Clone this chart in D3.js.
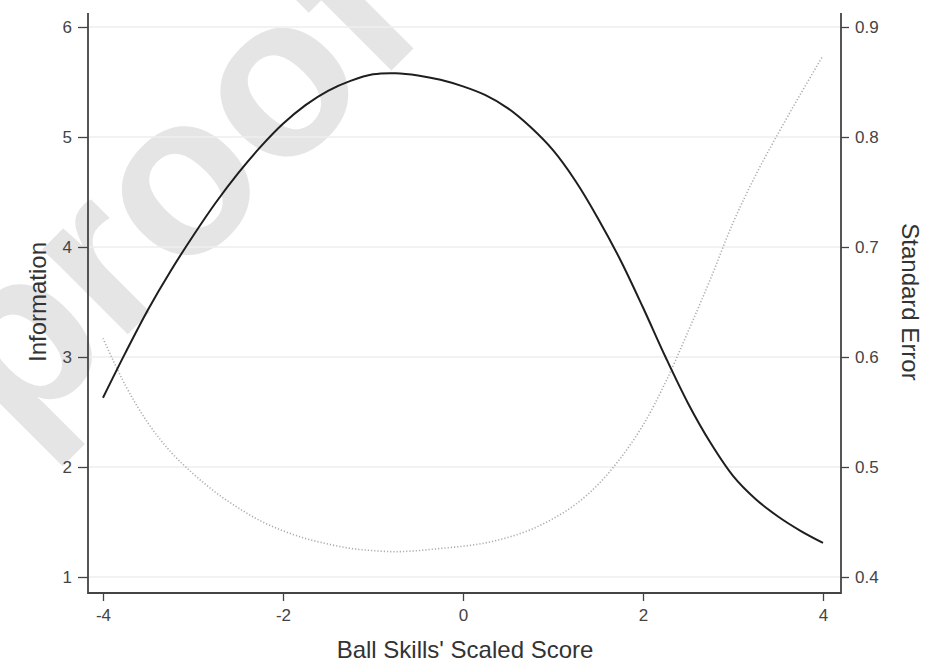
<!DOCTYPE html>
<html>
<head>
<meta charset="utf-8">
<script src="https://cdn.jsdelivr.net/npm/d3@7/dist/d3.min.js"></script>
<style>
  body { margin: 0; background: #fff; }
  svg { display: block; }
  text { font-family: "Liberation Sans", Arial, Helvetica, sans-serif; }
</style>
</head>
<body>
<svg id="chart" width="935" height="669"></svg>
<script>
// Test information function and its standard error across the scaled score range
const scores = [-4, -3.75, -3.5, -3.25, -3, -2.75, -2.5, -2.25, -2, -1.75, -1.5, -1.25, -1, -0.75, -0.5, -0.25,
                0, 0.25, 0.5, 0.75, 1, 1.25, 1.5, 1.75, 2, 2.25, 2.5, 2.75, 3, 3.25, 3.5, 3.75, 4];
const information = [2.63, 3.04, 3.43, 3.78, 4.10, 4.40, 4.67, 4.91, 5.12, 5.29, 5.42, 5.51, 5.57, 5.58, 5.56, 5.52,
                     5.46, 5.38, 5.26, 5.09, 4.88, 4.60, 4.26, 3.88, 3.45, 3.00, 2.58, 2.22, 1.92, 1.71, 1.55, 1.42, 1.31];
const standardError = [0.617, 0.574, 0.540, 0.514, 0.494, 0.477, 0.463, 0.451, 0.442, 0.435, 0.430, 0.426, 0.424, 0.423, 0.424, 0.426,
                       0.428, 0.431, 0.436, 0.443, 0.453, 0.466, 0.484, 0.508, 0.538, 0.577, 0.623, 0.671, 0.722, 0.765, 0.803, 0.839, 0.874];

const xTicks    = [-4, -2, 0, 2, 4];
const infoTicks = [1, 2, 3, 4, 5, 6];
const seTicks   = [0.4, 0.5, 0.6, 0.7, 0.8, 0.9];

const xTitle     = "Ball Skills' Scaled Score";
const infoTitle  = "Information";
const seTitle    = "Standard Error";
const watermark  = "proof";

const svg = d3.select("#chart");

// plot frame
const frame = { left: 88, right: 841, top: 13, bottom: 593 };

const x = d3.scaleLinear().domain([-4, 4]).range([103, 823]);
const yInfo = d3.scaleLinear().domain([1, 6]).range([577, 27]);
const ySE = d3.scaleLinear().domain([0.4, 0.9]).range([577, 27]);

// watermark behind everything
svg.append("text")
  .attr("transform", "translate(18,444) rotate(-45)")
  .attr("font-size", 228)
  .attr("font-weight", "bold")
  .attr("fill", "#e5e5e5")
  .text(watermark);

// horizontal grid
svg.append("g")
  .selectAll("line")
  .data(infoTicks)
  .join("line")
  .attr("x1", frame.left + 1)
  .attr("x2", frame.right - 1)
  .attr("y1", d => yInfo(d))
  .attr("y2", d => yInfo(d))
  .attr("stroke", "#eeeeee")
  .attr("stroke-width", 1.5);

// series
const infoLine = d3.line()
  .x((d, i) => x(scores[i]))
  .y(d => yInfo(d))
  .curve(d3.curveCatmullRom.alpha(0.5));

const seLine = d3.line()
  .x((d, i) => x(scores[i]))
  .y(d => ySE(d))
  .curve(d3.curveCatmullRom.alpha(0.5));

svg.append("path")
  .datum(standardError)
  .attr("d", seLine)
  .attr("fill", "none")
  .attr("stroke", "#acacac")
  .attr("stroke-width", 1.6)
  .attr("stroke-dasharray", "1.2,2");

svg.append("path")
  .datum(information)
  .attr("d", infoLine)
  .attr("fill", "none")
  .attr("stroke", "#1e1e1e")
  .attr("stroke-width", 2);

// axes
const axisColor = "#444";
const labelColor = "#444";
const intFormat = d => String(d);   // plain hyphen-minus, as in "-4"

function styleAxis(g) {
  g.select(".domain").remove();
  g.selectAll(".tick line").attr("stroke", axisColor).attr("stroke-width", 1.3);
  g.selectAll(".tick text")
    .attr("fill", labelColor)
    .attr("font-size", 17)
    .attr("font-family", "\"Liberation Sans\", Arial, sans-serif");
}

svg.append("g")
  .attr("transform", `translate(0,${frame.bottom})`)
  .call(d3.axisBottom(x).tickValues(xTicks).tickSize(8).tickPadding(8).tickFormat(intFormat))
  .call(styleAxis);

svg.append("g")
  .attr("transform", `translate(${frame.left},0)`)
  .call(d3.axisLeft(yInfo).tickValues(infoTicks).tickSize(10).tickPadding(6).tickFormat(intFormat))
  .call(styleAxis);

svg.append("g")
  .attr("transform", `translate(${frame.right},0)`)
  .call(d3.axisRight(ySE).tickValues(seTicks).tickSize(8).tickPadding(6).tickFormat(d3.format(".1f")))
  .call(styleAxis);

// frame lines (left, bottom, right)
svg.append("path")
  .attr("d", `M${frame.left},${frame.top}V${frame.bottom}H${frame.right}V${frame.top}`)
  .attr("fill", "none")
  .attr("stroke", axisColor)
  .attr("stroke-width", 1.8);

// titles
svg.append("text")
  .attr("x", 465).attr("y", 658)
  .attr("text-anchor", "middle")
  .attr("font-size", 24)
  .attr("fill", "#333")
  .text(xTitle);

svg.append("text")
  .attr("transform", "translate(46,302) rotate(-90)")
  .attr("text-anchor", "middle")
  .attr("font-size", 24)
  .attr("fill", "#333")
  .text(infoTitle);

svg.append("text")
  .attr("transform", "translate(902,302) rotate(90)")
  .attr("text-anchor", "middle")
  .attr("font-size", 24)
  .attr("fill", "#333")
  .text(seTitle);
</script>
</body>
</html>
